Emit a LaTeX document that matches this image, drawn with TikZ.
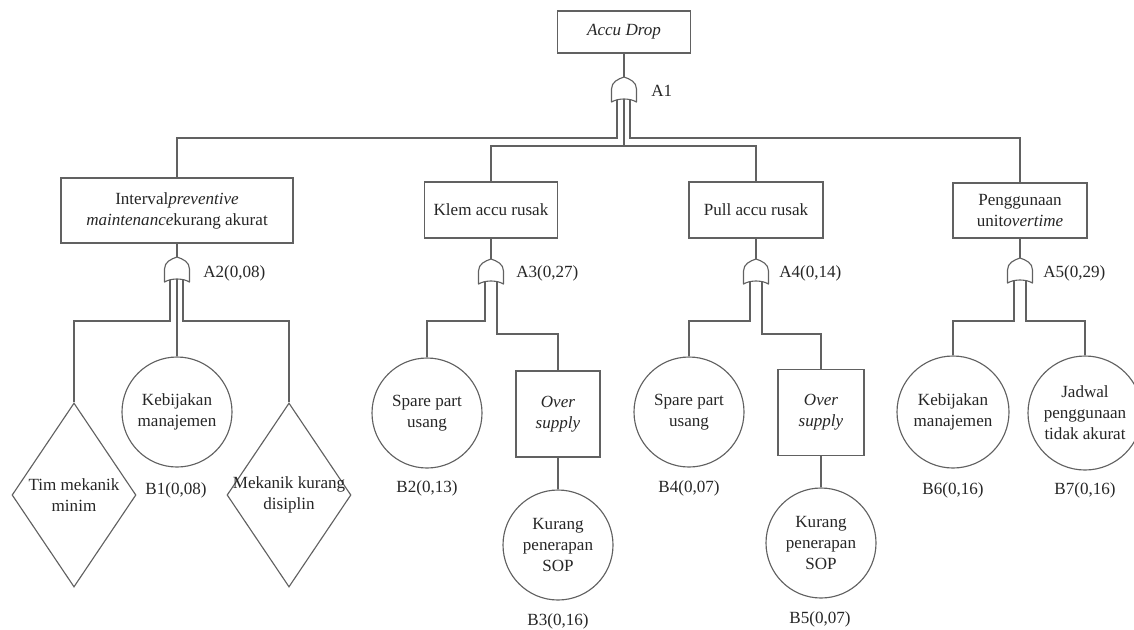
\documentclass[tikz,border=0pt]{standalone}
\usepackage{fontspec}
\setmainfont{LiberationSerif}[Extension=.ttf, UprightFont=*-Regular, ItalicFont=*-Italic, BoldFont=*-Bold, BoldItalicFont=*-BoldItalic]
\usetikzlibrary{shapes.geometric}
\tikzset{
  ln/.style={draw=black!62, line width=0.85pt},
  txt/.style={font=\rmfamily\fontsize{12.8}{15.75}\selectfont, text=black!85, align=center, inner sep=0pt},
  eventbox/.style={ln, rectangle, txt},
  basic/.style={ln, circle, txt, minimum size=82.5pt},
  undev/.style={ln, diamond, inner sep=0pt, minimum width=93pt, minimum height=138pt},
  gatelabel/.style={txt, anchor=west},
  problabel/.style={txt},
  orgate/.pic={
    \draw[ln, line join=round] (-12.5,25) -- (-12.5,12) .. controls (-12.5,5) and (-6,2) .. (0,0)
      .. controls (6,2) and (12.5,5) .. (12.5,12) -- (12.5,25)
      .. controls (6,21) and (-6,21) .. cycle;
    \coordinate (-top) at (0,0);
    \coordinate (-l) at (-7,23);
    \coordinate (-m) at (0,22);
    \coordinate (-r) at (6,23);
    \coordinate (-ll) at (-6,23);
  }
}
\begin{document}
\begin{tikzpicture}[x=0.75pt, y=-0.75pt]
\useasboundingbox (0,0) rectangle (1134,629);
\clip (0,0) rectangle (1134,629);

% helper heights
\coordinate (h1) at (0,138);
\coordinate (h2) at (0,146);
\coordinate (h3) at (0,321);
\coordinate (h4) at (0,334);

% top event
\node[eventbox, minimum width=99.75pt, minimum height=31.5pt] (top) at (624,32) {\textit{Accu Drop}};
\pic (g1) at (624,77) {orgate};
\node[gatelabel] (la1) at (651,91) {A1};

% intermediate events
\node[eventbox, minimum width=174pt, minimum height=48.75pt] (bint) at (177,210.5)
  {Interval\textit{preventive}\\\textit{maintenance}kurang akurat};
\node[eventbox, minimum width=99.75pt, minimum height=42pt] (bklem) at (491,210) {Klem accu rusak};
\node[eventbox, minimum width=100.5pt, minimum height=42pt] (bpull) at (756,210) {Pull accu rusak};
\node[eventbox, minimum width=100.5pt, minimum height=41.25pt] (bpeng) at (1020,210.5)
  {Penggunaan\\unit\textit{overtime}};

% gates
\pic (g2) at (177,257) {orgate};
\pic (g3) at (491,259) {orgate};
\pic (g4) at (756,259) {orgate};
\pic (g5) at (1020,258) {orgate};
\node[gatelabel] (la2) at (203,273) {A2(0,08)};
\node[gatelabel] (la3) at (516,273) {A3(0,27)};
\node[gatelabel] (la4) at (779,273) {A4(0,14)};
\node[gatelabel] (la5) at (1043,273) {A5(0,29)};

% branch A2
\node[undev] (d1) at (74,495) {};
\node[txt] (d1t) at (d1.center) {Tim mekanik\\minim};
\node[basic] (c1) at (177,412) {Kebijakan\\manajemen};
\node[problabel] (lb1) at (176,490) {B1(0,08)};
\node[undev] (d2) at (289,495) {};
\node[txt] (d2t) at (d2.center) {Mekanik kurang\\disiplin};

% branch A3
\node[basic] (c2) at (427,413) {Spare part\\usang};
\node[problabel] (lb2) at (427,488) {B2(0,13)};
\node[eventbox, minimum width=63pt, minimum height=64.5pt] (o1) at (558,414) {\textit{Over}\\\textit{supply}};
\node[basic] (c3) at (558,545) {Kurang\\penerapan\\SOP};
\node[problabel] (lb3) at (558,621) {B3(0,16)};

% branch A4
\node[basic] (c4) at (689,412) {Spare part\\usang};
\node[problabel] (lb4) at (689,488) {B4(0,07)};
\node[eventbox, minimum width=64.5pt, minimum height=64pt] (o2) at (821,412.5) {\textit{Over}\\\textit{supply}};
\node[basic] (c5) at (821,543) {Kurang\\penerapan\\SOP};
\node[problabel] (lb5) at (820,619) {B5(0,07)};

% branch A5
\node[basic, minimum size=84pt] (c6) at (953,412) {Kebijakan\\manajemen};
\node[problabel] (lb6) at (953,490) {B6(0,16)};
\node[basic, minimum size=85.5pt] (c7) at (1085,413) {Jadwal\\penggunaan\\tidak akurat};
\node[problabel] (lb7) at (1085,490) {B7(0,16)};

% connectors
\draw[ln] (top.south) -- (g1-top);
\draw[ln] (g1-l) |- (bint.north |- h1) -- (bint.north);
\draw[ln] (g1-m) -- (g1-m |- h2);
\draw[ln] (bklem.north) |- (bpull.north |- h2) -- (bpull.north);
\draw[ln] (g1-r) |- (bpeng.north |- h1) -- (bpeng.north);

\draw[ln] (bint.south) -- (g2-top);
\draw[ln] (bklem.south) -- (g3-top);
\draw[ln] (bpull.south) -- (g4-top);
\draw[ln] (bpeng.south) -- (g5-top);

\draw[ln] (g2-l) |- (d1.north |- h3) -- (d1.north);
\draw[ln] (g2-m) -- (c1.north);
\draw[ln] (g2-r) |- (d2.north |- h3) -- (d2.north);

\draw[ln] (g3-ll) |- (c2.north |- h3) -- (c2.north);
\draw[ln] (g3-r) |- (o1.north |- h4) -- (o1.north);
\draw[ln] (o1.south) -- (c3.north);

\draw[ln] (g4-ll) |- (c4.north |- h3) -- (c4.north);
\draw[ln] (g4-r) |- (o2.north |- h4) -- (o2.north);
\draw[ln] (o2.south) -- (c5.north);

\draw[ln] (g5-ll) |- (c6.north |- h3) -- (c6.north);
\draw[ln] (g5-r) |- (c7.north |- h3) -- (c7.north);
\end{tikzpicture}
\end{document}
